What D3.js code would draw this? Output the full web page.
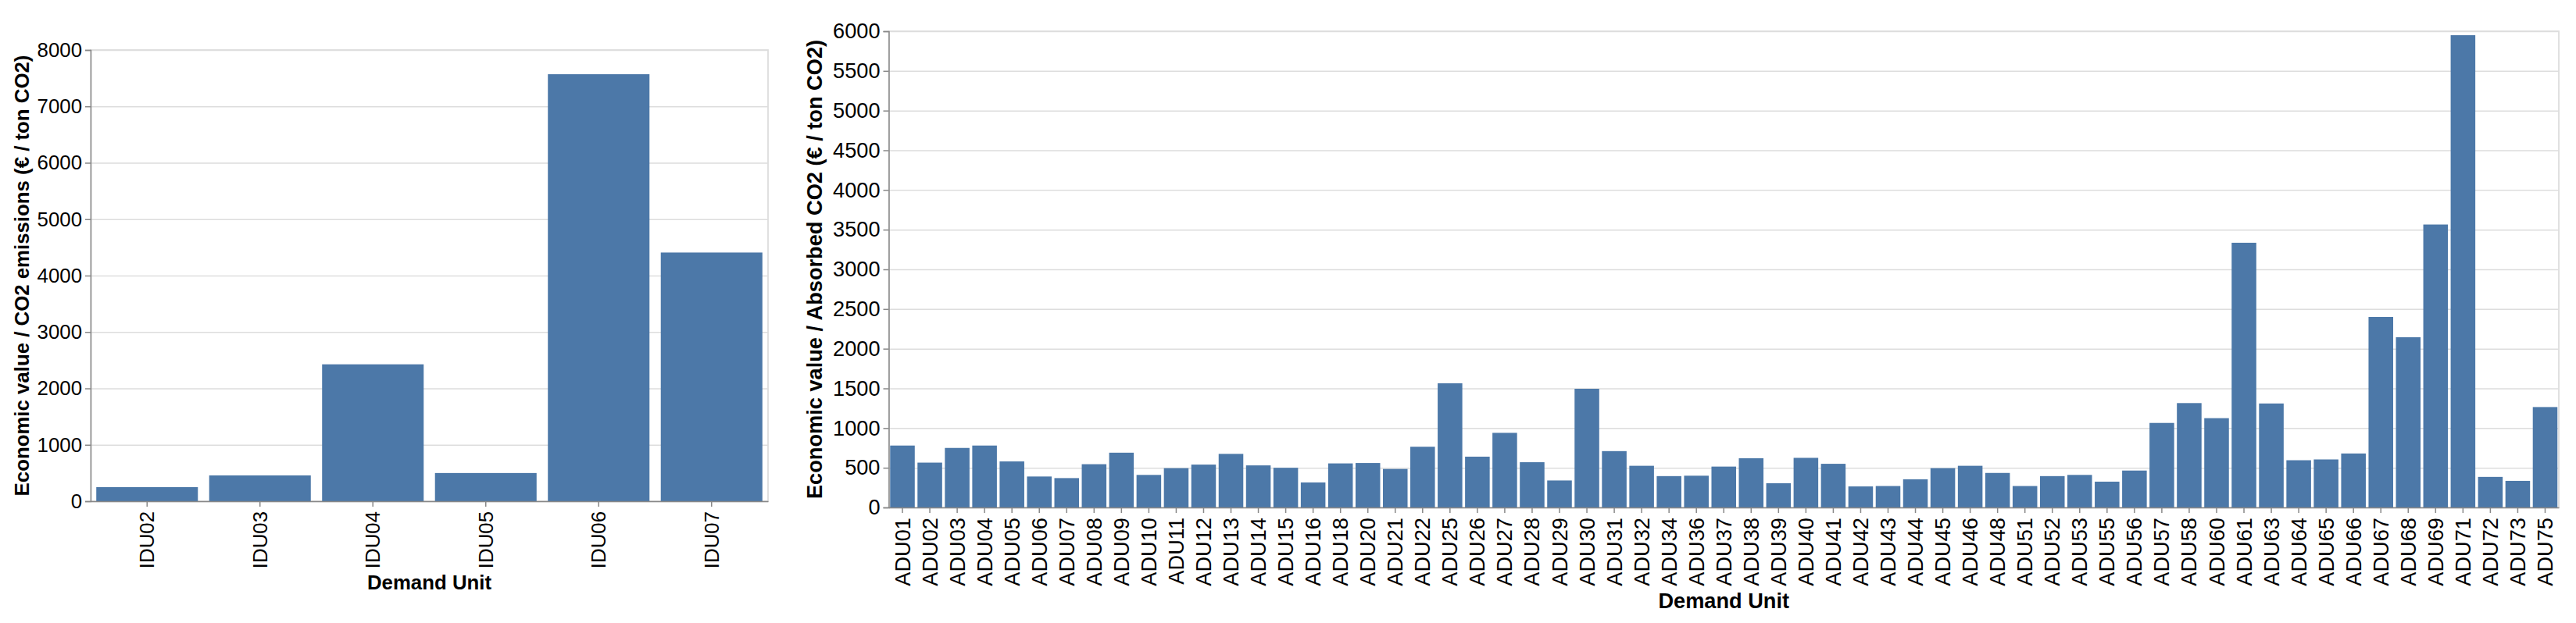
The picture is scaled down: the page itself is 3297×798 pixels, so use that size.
<!DOCTYPE html>
<html>
<head>
<meta charset="utf-8">
<script src="https://cdn.jsdelivr.net/npm/d3@7"></script>
<style>
  html, body { margin: 0; padding: 0; background: #fff; }
  svg { display: block; }
  text { font-family: "Liberation Sans", Arial, sans-serif; fill: #000; }
</style>
</head>
<body>
<svg id="chart" width="3297" height="798"></svg>
<script>
// ---- Data ----
const leftCategories = ["IDU02", "IDU03", "IDU04", "IDU05", "IDU06", "IDU07"];
const leftValues = [250, 458, 2427, 500, 7570, 4409];
const leftTicks = [0, 1000, 2000, 3000, 4000, 5000, 6000, 7000, 8000];
const leftYTitle = "Economic value / CO2 emissions (€ / ton CO2)";

const rightCategories = [
  "ADU01","ADU02","ADU03","ADU04","ADU05","ADU06","ADU07","ADU08","ADU09","ADU10",
  "ADU11","ADU12","ADU13","ADU14","ADU15","ADU16","ADU18","ADU20","ADU21","ADU22",
  "ADU25","ADU26","ADU27","ADU28","ADU29","ADU30","ADU31","ADU32","ADU34","ADU36",
  "ADU37","ADU38","ADU39","ADU40","ADU41","ADU42","ADU43","ADU44","ADU45","ADU46",
  "ADU48","ADU51","ADU52","ADU53","ADU55","ADU56","ADU57","ADU58","ADU60","ADU61",
  "ADU63","ADU64","ADU65","ADU66","ADU67","ADU68","ADU69","ADU71","ADU72","ADU73",
  "ADU75"
];
const rightValues = [
  780, 565, 750, 780, 580, 390, 370, 545, 690, 410,
  495, 540, 675, 530, 500, 315, 555, 560, 485, 765,
  1565, 640, 940, 570, 340, 1495, 710, 525, 395, 400,
  515, 620, 305, 625, 550, 265, 270, 355, 495, 525,
  435, 270, 395, 410, 325, 465, 1065, 1315, 1125, 3335,
  1310, 595, 605, 680, 2400, 2145, 3565, 5950, 385, 335,
  1265
];
const rightTicks = [0, 500, 1000, 1500, 2000, 2500, 3000, 3500, 4000, 4500, 5000, 5500, 6000];
const rightYTitle = "Economic value / Absorbed CO2 (€ / ton CO2)";
const xTitle = "Demand Unit";

// ---- Drawing ----
const svg = d3.select("#chart");
svg.append("rect").attr("width", 3297).attr("height", 798).attr("fill", "#fff");

function drawChart(opt) {
  const { x0, x1, y0, y1, cats, vals, ticks, yTitle, fs, yTitleX, xTitleY } = opt;
  const w = x1 - x0, h = y1 - y0;
  const g = svg.append("g").attr("transform", `translate(${x0},${y0})`);

  const x = d3.scaleBand().domain(cats).range([0, w]).paddingInner(0.1).paddingOuter(0.05);
  const y = d3.scaleLinear().domain([ticks[0], ticks[ticks.length - 1]]).range([h, 0]);

  // grid
  const grid = g.append("g").call(d3.axisLeft(y).tickValues(ticks).tickSize(-w).tickFormat(""));
  grid.select(".domain").remove();
  grid.selectAll("line").attr("stroke", "#ddd").attr("stroke-width", 1.5);

  // view border
  g.append("rect").attr("x", 0).attr("y", 0).attr("width", w).attr("height", h)
    .attr("fill", "none").attr("stroke", "#ddd").attr("stroke-width", 1.8);

  // bars
  g.selectAll("rect.bar").data(cats).join("rect")
    .attr("class", "bar")
    .attr("x", d => x(d))
    .attr("width", x.bandwidth())
    .attr("y", (d, i) => y(vals[i]))
    .attr("height", (d, i) => h - y(vals[i]))
    .attr("fill", "#4c78a8");

  // y axis
  const ya = g.append("g").call(d3.axisLeft(y).tickValues(ticks).tickSize(7).tickPadding(4).tickFormat(d3.format("d")));
  ya.select(".domain").attr("stroke", "#888").attr("stroke-width", 1.5);
  ya.selectAll(".tick line").attr("stroke", "#888").attr("stroke-width", 1.5);
  ya.selectAll(".tick text").attr("font-size", fs).attr("fill", "#000")
    .attr("font-family", '"Liberation Sans", Arial, sans-serif');

  // x axis
  const xa = g.append("g").attr("transform", `translate(0,${h})`)
    .call(d3.axisBottom(x).tickSize(7).tickPadding(6).tickSizeOuter(0));
  xa.select(".domain").attr("stroke", "#888").attr("stroke-width", 1.5);
  xa.selectAll(".tick line").attr("stroke", "#888").attr("stroke-width", 1.5);
  xa.selectAll(".tick text")
    .attr("font-size", fs).attr("fill", "#000")
    .attr("font-family", '"Liberation Sans", Arial, sans-serif')
    .attr("text-anchor", "end")
    .attr("transform", "rotate(-90)")
    .attr("x", -13)
    .attr("y", 0)
    .attr("dy", "0.35em");

  // titles
  svg.append("text")
    .attr("transform", `translate(${yTitleX},${y0 + h / 2}) rotate(-90)`)
    .attr("text-anchor", "middle")
    .attr("font-size", fs).attr("font-weight", "bold")
    .text(yTitle);
  svg.append("text")
    .attr("x", x0 + w / 2).attr("y", xTitleY)
    .attr("text-anchor", "middle")
    .attr("font-size", fs).attr("font-weight", "bold")
    .text(xTitle);
}

drawChart({ x0: 116, x1: 983, y0: 64, y1: 642, cats: leftCategories, vals: leftValues,
  ticks: leftTicks, yTitle: leftYTitle, fs: 25.8, yTitleX: 37, xTitleY: 755 });
drawChart({ x0: 1137.5, x1: 3275, y0: 40, y1: 650, cats: rightCategories, vals: rightValues,
  ticks: rightTicks, yTitle: rightYTitle, fs: 27.2, yTitleX: 1052, xTitleY: 779 });
</script>
</body>
</html>
